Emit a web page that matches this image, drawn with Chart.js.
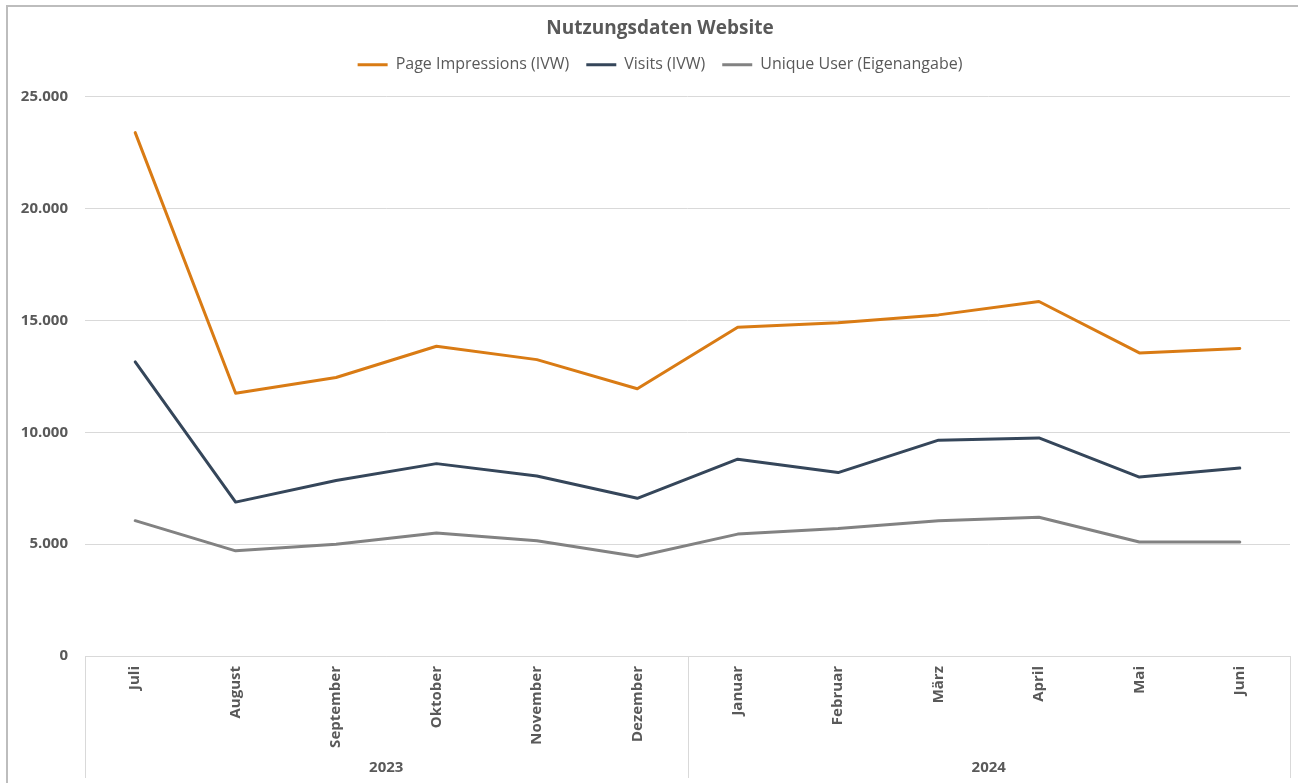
<!DOCTYPE html>
<html>
<head>
<meta charset="utf-8">
<script src="https://cdn.jsdelivr.net/npm/chart.js@4/dist/chart.umd.min.js"></script>
<style>
  html, body { margin: 0; padding: 0; background: #ffffff; overflow: hidden; }
  #wrap { position: relative; width: 1298px; height: 783px; }
  #frame { position: absolute; left: 6px; top: 5px; width: 1320px; height: 800px;
           border-top: 2px solid #bdbdbd; border-left: 2px solid #bdbdbd; box-sizing: border-box; }
  canvas { position: absolute; left: 0; top: 0; }
</style>
</head>
<body>
<div id="wrap">
  <div id="frame"></div>
  <canvas id="c" width="1298" height="783"></canvas>
</div>
<script>
const months = ['Juli','August','September','Oktober','November','Dezember','Januar','Februar','März','April','Mai','Juni'];
const yearLabels = ['2023','2024'];
const monthsPerYear = [6, 6];
const pageImpressions = [23400, 11750, 12450, 13850, 13250, 11950, 14700, 14900, 15250, 15850, 13550, 13750];
const visits = [13150, 6880, 7850, 8600, 8050, 7050, 8800, 8200, 9650, 9750, 8000, 8400];
const uniqueUser = [6050, 4700, 5000, 5500, 5150, 4450, 5450, 5700, 6050, 6200, 5100, 5100];
const yTicks = [0, 5000, 10000, 15000, 20000, 25000];

const TXT = '#595959';
const GRID = '#d9d9d9';
const FONT = '"Open Sans", sans-serif';

function fmt(v) { return String(v).replace(/\B(?=(\d{3})+(?!\d))/g, '.'); }

const groupPlugin = {
  id: 'groupAxis',
  afterDraw(chart) {
    const x = chart.scales.x;
    const ctx = chart.ctx;
    const top = x.top;
    const bottom = x.bottom;
    ctx.save();
    ctx.strokeStyle = GRID;
    ctx.lineWidth = 1;
    const bounds = [x.left];
    let idx = 0;
    for (let g = 0; g < monthsPerYear.length; g++) {
      const first = idx, last = idx + monthsPerYear[g] - 1;
      idx += monthsPerYear[g];
      if (g < monthsPerYear.length - 1) {
        bounds.push((x.getPixelForValue(last) + x.getPixelForValue(last + 1)) / 2);
      }
      const cx = (x.getPixelForValue(first) + x.getPixelForValue(last)) / 2;
      ctx.fillStyle = TXT;
      ctx.font = 'bold 15px ' + FONT;
      ctx.textAlign = 'center';
      ctx.textBaseline = 'middle';
      ctx.fillText(yearLabels[g], cx, bottom - 10);
    }
    bounds.push(x.right);
    bounds.forEach(b => {
      const px = Math.round(b) + 0.5;
      ctx.beginPath();
      ctx.moveTo(px, top);
      ctx.lineTo(px, bottom);
      ctx.stroke();
    });
    ctx.restore();
  }
};

const legendSpacer = {
  id: 'legendSpacer',
  beforeInit(chart) {
    const orig = chart.legend.fit;
    chart.legend.fit = function () {
      orig.bind(chart.legend)();
      this.height += 14;
    };
  }
};

const lineDs = (label, data, color) => ({
  label, data,
  borderColor: color, backgroundColor: color,
  borderWidth: 3, pointRadius: 0, pointHoverRadius: 0,
  tension: 0, fill: false, borderJoinStyle: 'round', borderCapStyle: 'round'
});

new Chart(document.getElementById('c'), {
  type: 'line',
  data: {
    labels: months,
    datasets: [
      lineDs('Page Impressions (IVW)', pageImpressions, '#D97B14'),
      lineDs('Visits (IVW)', visits, '#35465A'),
      lineDs('Unique User (Eigenangabe)', uniqueUser, '#828282')
    ]
  },
  plugins: [legendSpacer, groupPlugin],
  options: {
    responsive: false,
    animation: false,
    events: [],
    layout: { padding: { left: 30, right: 8, top: 0, bottom: 5 } },
    plugins: {
      title: {
        display: true,
        text: 'Nutzungsdaten Website',
        color: TXT,
        font: { family: FONT, size: 19, weight: 'bold' },
        padding: { top: 17, bottom: 0 }
      },
      legend: {
        display: true,
        position: 'top',
        labels: {
          color: TXT,
          font: { family: FONT, size: 16 },
          usePointStyle: true,
          pointStyle: 'line',
          pointStyleWidth: 30,
          padding: 17
        }
      },
      tooltip: { enabled: false }
    },
    scales: {
      x: {
        type: 'category',
        offset: true,
        grid: { display: false, drawTicks: false },
        border: { display: true, color: GRID, width: 1 },
        ticks: {
          color: TXT,
          font: { family: FONT, size: 15, weight: 'bold' },
          minRotation: 90, maxRotation: 90,
          padding: 10, autoSkip: false
        },
        afterFit(s) { s.height = 122; }
      },
      y: {
        min: 0, max: 25000,
        afterBuildTicks(s) { s.ticks = yTicks.map(v => ({ value: v })); },
        grid: { color: GRID, lineWidth: 1, drawTicks: false },
        border: { display: false },
        ticks: {
          color: TXT,
          font: { family: FONT, size: 15, weight: 'bold' },
          padding: 17,
          callback: v => fmt(v)
        },
        afterFit(s) { s.width = 55; },
        afterUpdate(s) { s._computeLabelArea = () => undefined; }
      }
    }
  }
});
</script>
</body>
</html>
